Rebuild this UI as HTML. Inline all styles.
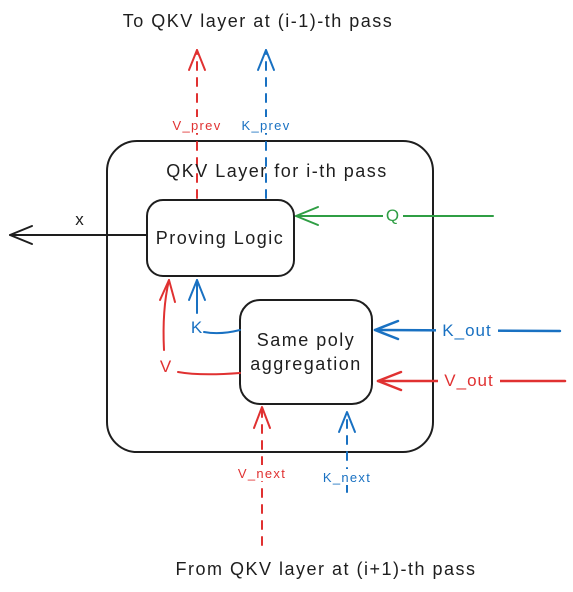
<!DOCTYPE html>
<html><head><meta charset="utf-8"><style>
html,body{margin:0;padding:0;background:#fff;}
svg{display:block;}
text{font-family:"Liberation Sans",sans-serif;}
</style></head><body>
<svg width="573" height="592" viewBox="0 0 573 592" xmlns="http://www.w3.org/2000/svg">
<g fill="none" stroke-linecap="round" stroke-linejoin="round">
<rect x="107" y="141" width="326" height="311" rx="30" stroke="#1e1e1e" stroke-width="2"/>
<rect x="147" y="200" width="147" height="76" rx="16" stroke="#1e1e1e" stroke-width="2"/>
<rect x="240" y="300" width="132" height="104" rx="20" stroke="#1e1e1e" stroke-width="2"/>

<line x1="197" y1="198" x2="197" y2="50" stroke="#e03131" stroke-width="2" stroke-dasharray="8 8"/>
<path d="M189 70 L197 50 L205 70" stroke="#e03131" stroke-width="2"/>
<line x1="266" y1="198" x2="266" y2="50" stroke="#1971c2" stroke-width="2" stroke-dasharray="8 8"/>
<path d="M258 70 L266 50 L274 70" stroke="#1971c2" stroke-width="2"/>

<line x1="493" y1="216" x2="296" y2="216" stroke="#2f9e44" stroke-width="2"/>
<path d="M318 207 L296 216 L318 225" stroke="#2f9e44" stroke-width="2"/>

<line x1="146" y1="235" x2="10" y2="235" stroke="#1e1e1e" stroke-width="2"/>
<path d="M32 226 L10 235 L32 244" stroke="#1e1e1e" stroke-width="2"/>

<path d="M240 373 Q200 376 178 372" stroke="#e03131" stroke-width="2"/>
<path d="M164 350 Q162 310 169 280" stroke="#e03131" stroke-width="2"/>
<path d="M160 300 L169 280 L175 302" stroke="#e03131" stroke-width="2"/>
<path d="M240 330 Q220 335 204 332" stroke="#1971c2" stroke-width="2"/>
<line x1="197" y1="313" x2="197" y2="280" stroke="#1971c2" stroke-width="2"/>
<path d="M189 300 L197 280 L205 300" stroke="#1971c2" stroke-width="2"/>

<line x1="560" y1="331" x2="375" y2="330" stroke="#1971c2" stroke-width="2.5"/>
<path d="M398 321 L375 330 L398 339" stroke="#1971c2" stroke-width="2.5"/>
<line x1="565" y1="381" x2="378" y2="381" stroke="#e03131" stroke-width="2.5"/>
<path d="M401 372 L378 381 L401 390" stroke="#e03131" stroke-width="2.5"/>

<line x1="262" y1="545" x2="262" y2="407" stroke="#e03131" stroke-width="2" stroke-dasharray="8 8"/>
<path d="M254 428 L262 407 L270 428" stroke="#e03131" stroke-width="2"/>
<line x1="347" y1="492" x2="347" y2="412" stroke="#1971c2" stroke-width="2" stroke-dasharray="8 8"/>
<path d="M339 432 L347 412 L355 432" stroke="#1971c2" stroke-width="2"/>
</g>

<rect x="168" y="117" width="58" height="16" fill="#fff"/>
<rect x="237" y="117" width="60" height="16" fill="#fff"/>
<rect x="383" y="206" width="20" height="18" fill="#fff"/>
<rect x="436" y="320" width="62" height="20" fill="#fff"/>
<rect x="438" y="370" width="62" height="20" fill="#fff"/>
<rect x="232" y="465" width="60" height="16" fill="#fff"/>
<rect x="317" y="469" width="60" height="16" fill="#fff"/>

<g font-size="13" text-anchor="middle" letter-spacing="1.3">
<text x="197" y="130" fill="#e03131">V_prev</text>
<text x="266" y="130" fill="#1971c2">K_prev</text>
<text x="262" y="478" fill="#e03131">V_next</text>
<text x="347" y="482" fill="#1971c2">K_next</text>
</g>
<g font-size="17" text-anchor="middle" letter-spacing="1">
<text x="393" y="221" fill="#2f9e44">Q</text>
<text x="467" y="336" fill="#1971c2">K_out</text>
<text x="469" y="386" fill="#e03131">V_out</text>
<text x="197" y="333" fill="#1971c2">K</text>
<text x="166" y="372" fill="#e03131">V</text>
<text x="80" y="225" fill="#1e1e1e">x</text>
</g>
<g font-size="18" text-anchor="middle" fill="#1e1e1e" letter-spacing="1.5">
<text x="258" y="27">To QKV layer at (i-1)-th pass</text>
<text x="277" y="177">QKV Layer for i-th pass</text>
<text x="220" y="244">Proving Logic</text>
<text x="306" y="346">Same poly</text>
<text x="306" y="370">aggregation</text>
<text x="326" y="575">From QKV layer at (i+1)-th pass</text>
</g>
</svg>
</body></html>
